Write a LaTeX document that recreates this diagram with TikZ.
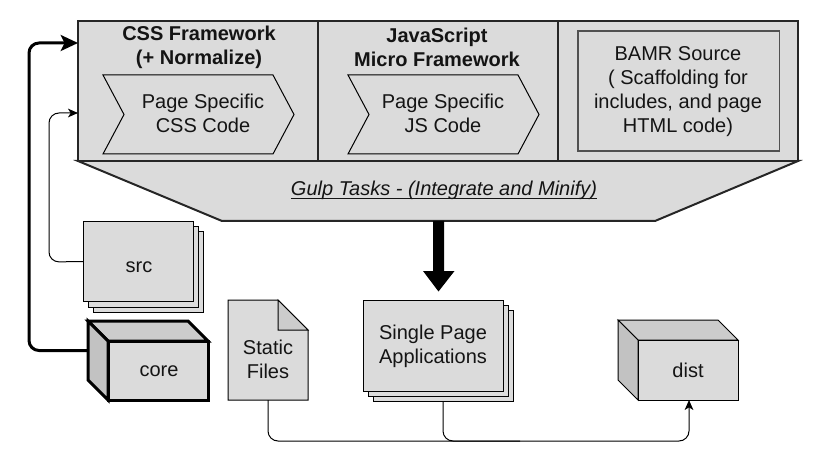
\documentclass[tikz,border=0pt]{standalone}
\usepackage{fontspec}
\setmainfont{Liberation Sans}
\usetikzlibrary{arrows.meta}
\definecolor{fillg}{HTML}{DBDBDB}
\definecolor{topg}{HTML}{CCCCCC}
\definecolor{sideg}{HTML}{C2C2C2}
\definecolor{edgeg}{HTML}{262626}
\newsavebox{\ulbox}
\newcommand{\closeul}[1]{\sbox{\ulbox}{#1}\usebox{\ulbox}\llap{\rule[-2.2pt]{\wd\ulbox}{0.6pt}}}
\tikzset{
  x=0.75pt,y=-0.75pt,
  every node/.style={font=\fontsize{15}{18}\selectfont,align=center,text=black!92,inner sep=0pt,outer sep=0pt},
  panel/.style={fill=fillg,draw=edgeg,line width=1.5pt,line join=miter},
  thinshape/.style={fill=fillg,draw=black,line width=0.75pt,line join=miter},
  heavyshape/.style={draw=black,line width=2.25pt,line join=miter},
  thinlink/.style={draw=black,line width=0.75pt,rounded corners=7.5pt},
  heavylink/.style={draw=black,line width=2.25pt,rounded corners=7.5pt},
  thintip/.style={-{Stealth[length=7.5pt,width=6.5pt,inset=2pt]}},
  heavytip/.style={-{Stealth[length=13pt,width=12pt,inset=3pt]}},
}
\begin{document}
\begin{tikzpicture}
\useasboundingbox (0,0) rectangle (820,470);
% Gulp trapezoid
\draw[panel] (78,161) -- (798,161) -- (655,221) -- (222,221) -- cycle;
% Top panels
\draw[panel] (78,21) rectangle (318,161);
\draw[panel] (318,21) rectangle (558,161);
\draw[panel] (558,21) rectangle (798,161);
\coordinate (panelL) at (78,43);
\coordinate (panelLb) at (78,113);
% Chevrons
\draw[thinshape] (103,75) -- (273,75) -- (294,114.5) -- (273,154) -- (103,154) -- (124,114.5) -- cycle;
\draw[thinshape] (348,75) -- (518,75) -- (539,114.5) -- (518,154) -- (348,154) -- (369,114.5) -- cycle;
% BAMR box
\draw[fill=fillg,draw=edgeg!80!white,line width=1pt] (578,31) rectangle (779.5,151);
% Texts in the panels
\node (csst) at (199,47.5) {\bfseries CSS Framework\\\bfseries (+ Normalize)};
\node (jst) at (437,47.5) {\bfseries JavaScript\\\bfseries Micro Framework};
\node (cssc) at (203,113.5) {Page Specific\\CSS Code};
\node (jsc) at (443,113.5) {Page Specific\\JS Code};
\node (bamr) at (678,92) {BAMR Source\\( Scaffolding for\\includes, and page\\HTML code)};
\node (gulp) at (444,190.5) {\closeul{\itshape Gulp Tasks - (Integrate and Minify)}};
% src stack
\draw[thinshape] (93,232) rectangle (203,312);
\draw[thinshape] (88,227) rectangle (198,307);
\node[thinshape,minimum width=82.5pt,minimum height=59.25pt,anchor=north west] (src) at (83,222) {};
\node (srct) at (139,267) {src};
% core cube
\node[minimum width=90pt,minimum height=59.25pt,anchor=north west] (core) at (88,321) {};
\draw[fill=topg,heavyshape] (88,321) -- (188,321) -- (208,341) -- (108,341) -- cycle;
\draw[fill=sideg,heavyshape] (88,321) -- (108,341) -- (108,400) -- (88,380) -- cycle;
\draw[fill=fillg,heavyshape] (108,341) rectangle (208,400);
\node (coret) at (159,371) {core};
% static file
\draw[thinshape] (228,300) -- (278,300) -- (308,330) -- (308,400) -- (228,400) -- cycle;
\draw[fill=topg,draw=black,line width=0.75pt] (278,300) -- (278,330) -- (308,330) -- cycle;
\node[minimum width=60pt,minimum height=75pt,anchor=north west] (static) at (228,300) {};
\node (statict) at (268,359) {Static\\Files};
% SPA stack
\draw[thinshape] (373,310) rectangle (513,401);
\draw[thinshape] (368,305) rectangle (508,396);
\node[thinshape,minimum width=105pt,minimum height=68.25pt,anchor=north west] (spa) at (363,300) {};
\node (spat) at (433,346.5) {Single Page\\Applications};
% dist cube
\node[minimum width=90pt,minimum height=60pt,anchor=north west] (dist) at (618,320) {};
\draw[thinshape,fill=topg] (618,320) -- (718,320) -- (738,340) -- (638,340) -- cycle;
\draw[thinshape,fill=sideg] (618,320) -- (638,340) -- (638,400) -- (618,380) -- cycle;
\draw[thinshape] (638,340) rectangle (738,400);
\node (distt) at (688,370) {dist};
% Connectors
\draw[fill=black,draw=none] (433,221) -- (444,221) -- (444,271) -- (454.5,271) -- (438.5,291.5) -- (423,271) -- (433,271) -- cycle;
\coordinate (coreout) at (88,350.5);
\draw[heavylink,heavytip] (coreout) -- (29,350.5) -- (29,43) -- (panelL);
\draw[thinlink,thintip] (src.west) -- (49,262) -- (49,113) -- (panelLb);
\coordinate (distin) at (689,400);
\coordinate (spaout) at (443,401);
\draw[thinlink,thintip] (static.south) -- (268,441) -- (689,441) -- (distin);
\draw[thinlink] (spaout) -- (443,441) -- (520,441);
\end{tikzpicture}
\end{document}
